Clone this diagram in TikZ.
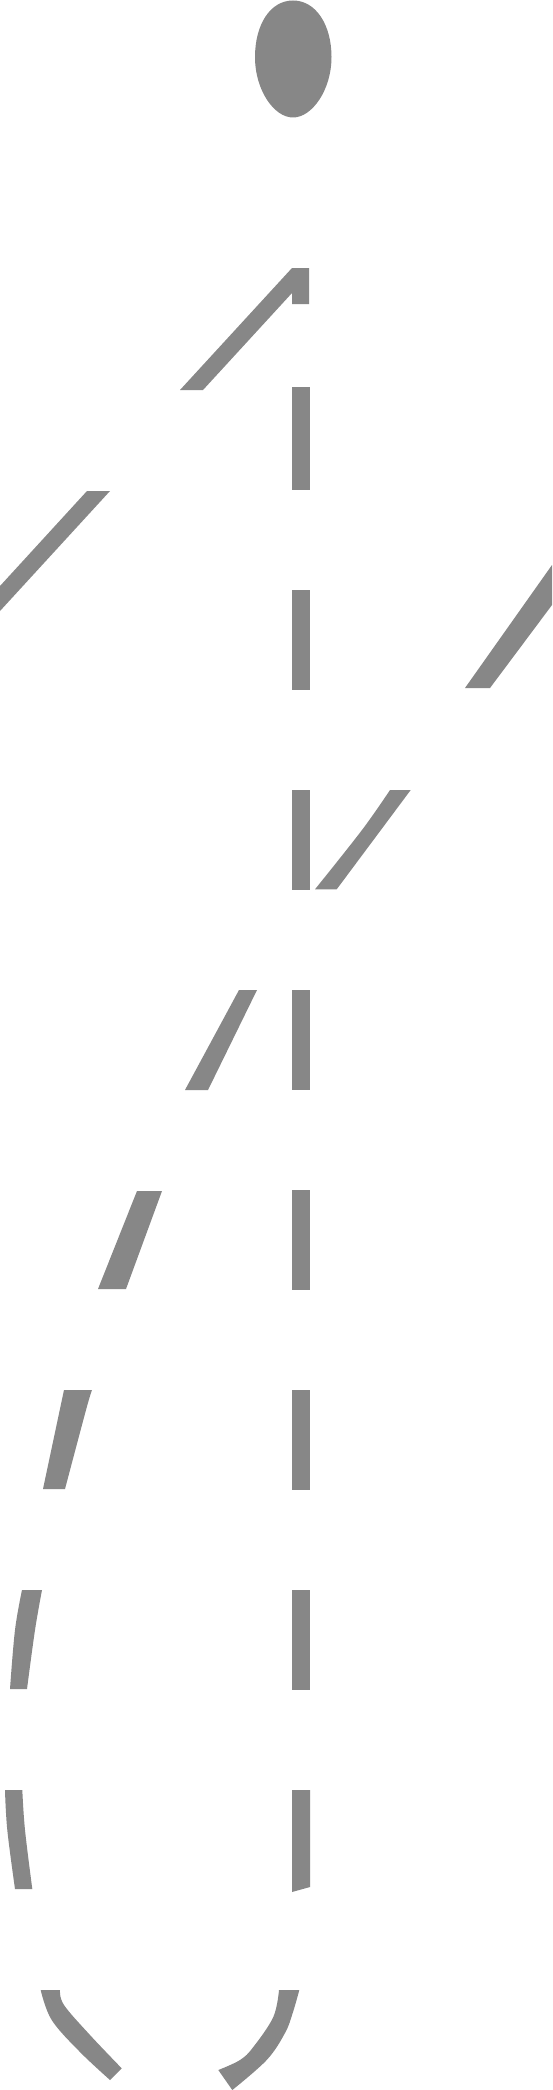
\documentclass[tikz,border=0pt]{standalone}
\definecolor{ink}{RGB}{135,135,135}
\newcommand{\bandpiece}[2]{\fill[ink] plot[smooth, tension=0.6] coordinates {#1} -- plot[smooth, tension=0.6] coordinates {#2} -- cycle;}
\begin{document}
\begin{tikzpicture}[x=1pt,y=-1pt]
\useasboundingbox (0,0) rectangle (552,2090);
\fill[white] (0,0) rectangle (552,2090);
% ball
\fill[ink] (293,0.5) .. controls (316,0.5) and (331.5,25) .. (331.5,57)
  .. controls (331.5,90) and (312,117.5) .. (293,117.5)
  .. controls (274,117.5) and (255,90) .. (255,57)
  .. controls (255,25) and (270,0.5) .. (293,0.5) -- cycle;
% top-left line
\fill[ink] (180,390)--(292,268)--(309,268)--(309,304)--(292,304)--(292,293)--(203,390)--cycle;
\fill[ink] (87,491)--(110,491)--(0,611)--(0,586)--cycle;
% vertical dashed line
\fill[ink] (292,387) rectangle (310,490);
\foreach \k in {1,...,6}
  \fill[ink] (292,{390+200*\k}) rectangle (310,{490+200*\k});
\fill[ink] (292,1790)--(310,1790)--(310,1887)--(292,1892)--cycle;
% big curve, piece by piece
\bandpiece{(552,565) (465,688)}{(490,688) (552,605)}
\bandpiece{(390,790) (362,830) (315,889.3)}{(336.7,889.3) (410.7,790)}
\bandpiece{(239,990) (185,1090)}{(208,1090) (257,990)}
\bandpiece{(137,1191) (98,1289)}{(126,1289) (162,1191)}
\bandpiece{(64,1390) (43,1489)}{(65,1489) (86,1410) (92,1390)}
\bandpiece{(22,1590) (15,1630) (10,1689)}{(27,1689) (35,1630) (42,1590)}
\bandpiece{(5,1790) (7.3,1830) (15,1889)}{(32.3,1889) (25,1830) (22.3,1790)}
\bandpiece{(40.7,1990) (51.7,2020) (80,2052) (110,2080)}{(121.7,2068.3) (90,2035) (64,2005) (60,1990)}
\bandpiece{(299.3,1990) (292.7,2013) (285,2033) (266.7,2060) (232.3,2090)}{(218.3,2070) (240,2060) (253.3,2047) (273.3,2017) (279,1990)}
\end{tikzpicture}
\end{document}
